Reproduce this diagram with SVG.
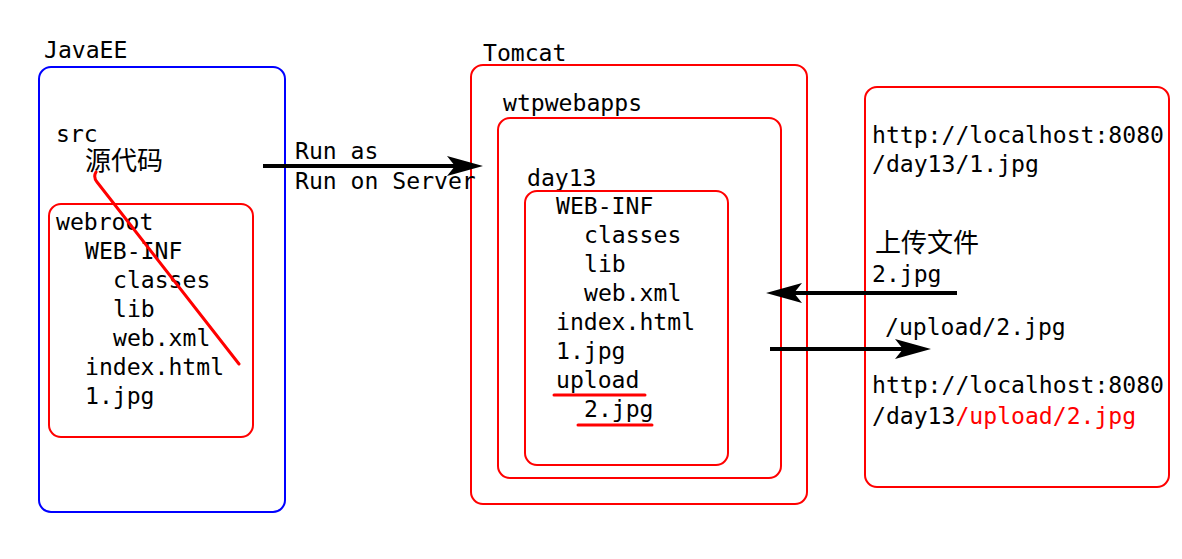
<svg xmlns="http://www.w3.org/2000/svg" width="1182" height="559" viewBox="0 0 1182 559">
<style>
.t{font-family:"DejaVu Sans Mono","Liberation Mono",monospace;font-size:23.1px;fill:#000}
.cn{font-family:"Noto Sans CJK SC",sans-serif;font-size:26px;font-weight:400;fill:#000}
.box{fill:none;stroke-width:2}
.blue{stroke:#0000ff}
.red{stroke:#ff0000}
.con{stroke:#000;stroke-width:4;fill:none}
.mark{stroke:#ff0000;stroke-width:3;fill:none;stroke-linecap:round}
</style>
<defs>
<marker id="arrow" markerUnits="userSpaceOnUse" markerWidth="36" markerHeight="20" viewBox="0 0 36 20" refX="28" refY="10" orient="auto">
<path d="M0,0 L36,10 L0,20 L8,10 Z" fill="#000"/>
</marker>
</defs>
<rect width="1182" height="559" fill="#fff"/>

<g id="javaee">
<text class="t" x="44" y="58">JavaEE</text>
<rect class="box blue" x="39" y="67" width="246" height="445" rx="12"/>
<text class="t" x="56" y="142">src</text>
<text class="cn" x="85" y="170">源代码</text>
</g>
<g id="webroot">
<rect class="box red" x="49" y="204" width="204" height="233" rx="12"/>
<text class="t" x="56" y="230">webroot</text>
<text class="t" x="85" y="259">WEB-INF</text>
<text class="t" x="113" y="288">classes</text>
<text class="t" x="113" y="317">lib</text>
<text class="t" x="113" y="346">web.xml</text>
<text class="t" x="85" y="375">index.html</text>
<text class="t" x="85" y="404">1.jpg</text>
</g>

<g id="tomcat">
<text class="t" x="483" y="61">Tomcat</text>
<rect class="box red" x="471" y="65" width="336" height="439" rx="12"/>
</g>
<g id="wtpwebapps">
<text class="t" x="503" y="111">wtpwebapps</text>
<rect class="box red" x="498" y="118" width="283" height="360" rx="12"/>
</g>
<g id="day13">
<text class="t" x="527" y="186">day13</text>
<rect class="box red" x="525" y="191" width="203" height="274" rx="12"/>
<text class="t" x="556" y="214">WEB-INF</text>
<text class="t" x="584" y="243">classes</text>
<text class="t" x="584" y="272">lib</text>
<text class="t" x="584" y="301">web.xml</text>
<text class="t" x="556" y="330">index.html</text>
<text class="t" x="556" y="359">1.jpg</text>
<text class="t" x="556" y="388">upload</text>
<text class="t" x="584" y="417">2.jpg</text>
</g>

<g id="browser">
<rect class="box red" x="865" y="87" width="304" height="400" rx="12"/>
<text class="t" x="872" y="143">http://localhost:8080</text>
<text class="t" x="872" y="172">/day13/1.jpg</text>
<text class="cn" x="875" y="252">上传文件</text>
<text class="t" x="872" y="282">2.jpg</text>
<text class="t" x="885" y="335">/upload/2.jpg</text>
<text class="t" x="872" y="393">http://localhost:8080</text>
<text class="t" x="872" y="424">/day13<tspan fill="#ff0000">/upload/2.jpg</tspan></text>
</g>

<g id="connectors">
<path class="con" d="M263,166 L475,166" marker-end="url(#arrow)"/>
<text class="t" x="295" y="159">Run as</text>
<text class="t" x="295" y="189">Run on Server</text>
<path class="con" d="M957,293 L774,293" marker-end="url(#arrow)"/>
<path class="con" d="M770,349 L923,349" marker-end="url(#arrow)"/>
</g>

<g id="annotations">
<path class="mark" d="M96,172 Q93,177 97,182 L239,364"/>
<path class="mark" d="M554,395 L645,395"/>
<path class="mark" d="M578,425 L652,425"/>
</g>
</svg>
